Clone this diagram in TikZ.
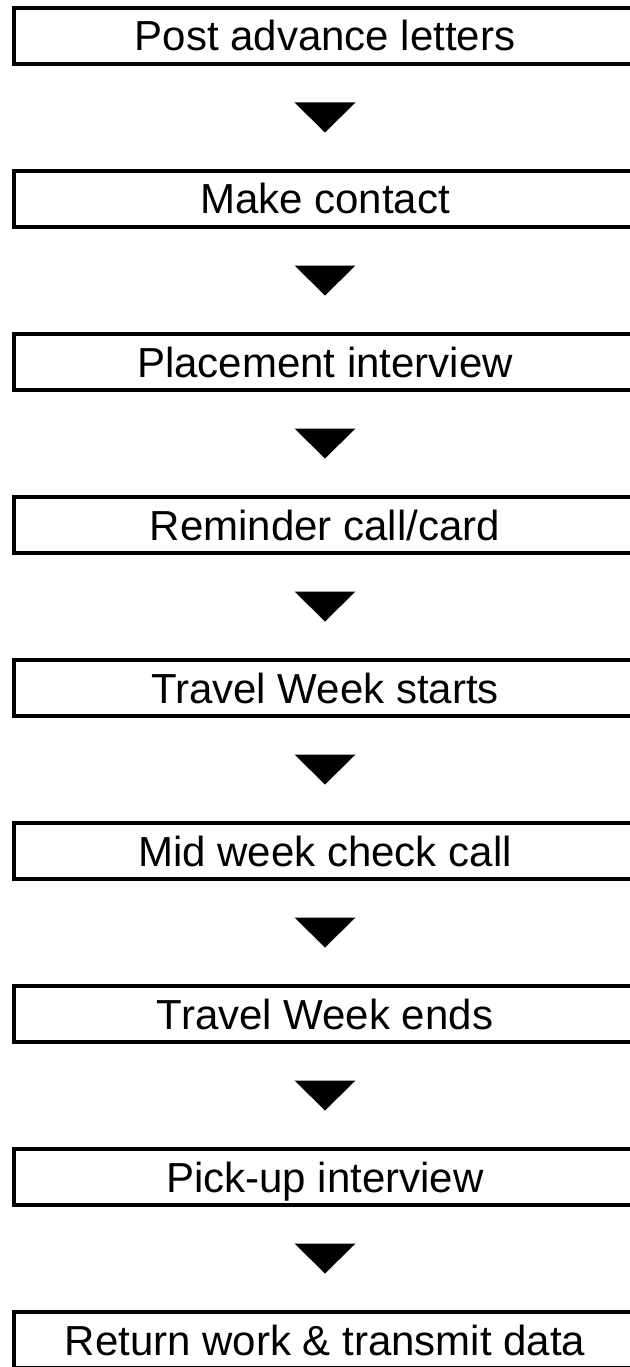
\documentclass[tikz,border=0pt]{standalone}
\usepackage{fontspec}
\setmainfont{Liberation Sans}
\usepackage{tikz}
\usetikzlibrary{positioning}
\tikzset{
  stage/.style={rectangle, draw=black, line width=4pt, inner sep=0pt,
                minimum width=623pt, minimum height=56pt,
                text height=30pt, text depth=0pt,
                font=\fontsize{42}{48}\selectfont},
  pointer/.style={fill=black},
}

\begin{document}
\begin{tikzpicture}[x=1pt, y=1pt, node distance=103pt]
  \useasboundingbox (0,0) rectangle (629,-1367);

  \node[stage] (post) at (325,-36) {Post advance letters};
  \node[stage, below=of post] (contact) {Make contact};
  \node[stage, below=of contact] (placement) {Placement interview};
  \node[stage, below=of placement] (reminder) {Reminder call/card};
  \node[stage, below=of reminder] (weekstart) {Travel Week starts};
  \node[stage, below=of weekstart] (midweek) {Mid week check call};
  \node[stage, below=of midweek] (weekend) {Travel Week ends};
  \node[stage, below=of weekend] (pickup) {Pick-up interview};
  \node[stage, below=of pickup] (returnwork) {Return work \& transmit data};

  % down-pointing markers between the stages
  \foreach \a/\b in {post/contact, contact/placement, placement/reminder,
                     reminder/weekstart, weekstart/midweek, midweek/weekend,
                     weekend/pickup, pickup/returnwork} {
    \path (\a.south) -- (\b.north) coordinate[midway] (\a-\b);
    \fill[pointer] (\a-\b) +(-30.5,15) -- +(30.5,15) -- +(0,-15) -- cycle;
  }
\end{tikzpicture}
\end{document}
